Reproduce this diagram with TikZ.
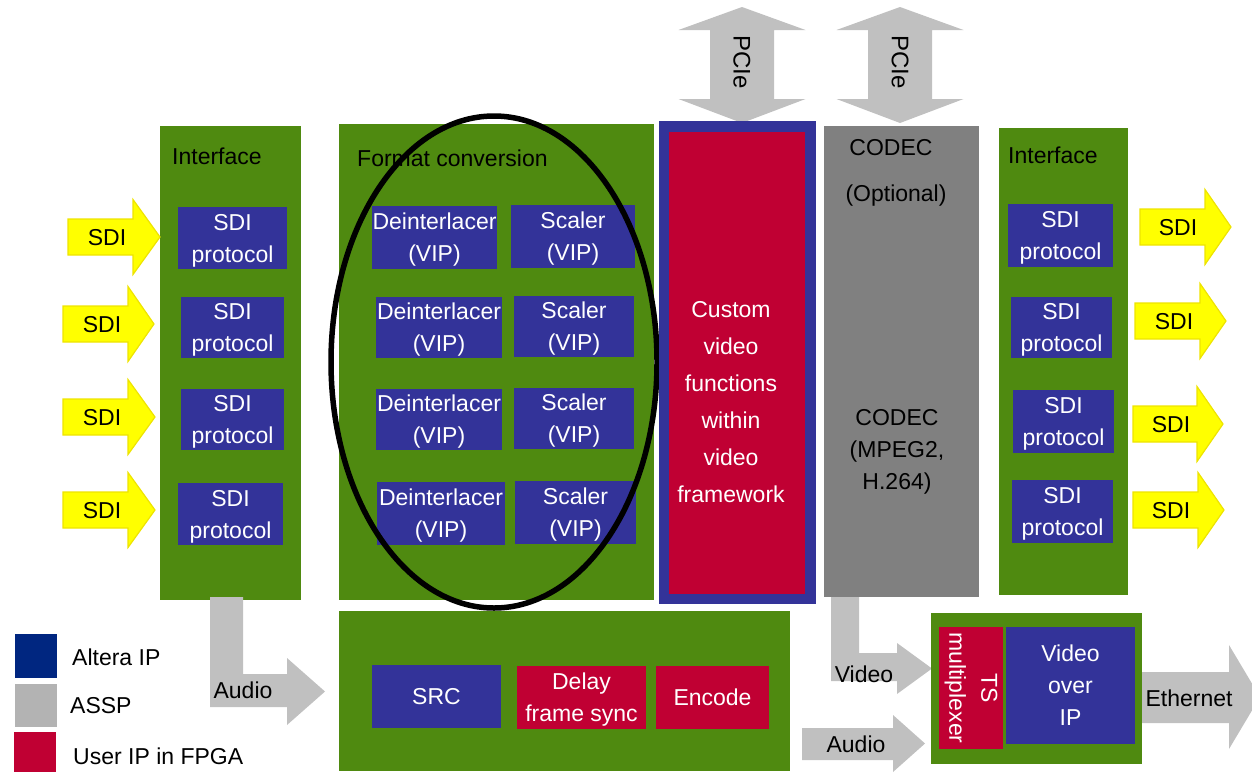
\documentclass[tikz,border=0pt]{standalone}
\usepackage{fontspec}
\setmainfont{Liberation Sans}
\definecolor{grn}{HTML}{4F8A10}
\definecolor{vblue}{HTML}{333399}
\definecolor{ured}{HTML}{C00033}
\definecolor{agray}{HTML}{C0C0C0}
\definecolor{cgray}{HTML}{808080}
\definecolor{lblue}{HTML}{002680}
\definecolor{lgray}{HTML}{B3B3B3}
\definecolor{yel}{HTML}{FFFF00}
\definecolor{yeld}{HTML}{EEE400}
\newcommand\fs{\fontsize{23}{32}\selectfont}
\newcommand\fsw{\fontsize{23}{37}\selectfont}
\tikzset{
  grp/.style={fill=grn, inner sep=0},
  ablk/.style={fill=vblue, inner sep=0, text=white, font=\fs, align=center, text depth=0pt},
  ublk/.style={fill=ured, inner sep=0, text=white, font=\fs, align=center, text depth=0pt},
  tsblk/.style={fill=ured, inner sep=0, text=white, font=\fs, align=center},
  lbl/.style={font=\fs, inner sep=0, align=center},
  yarr/.style={fill=yel, draw=yeld, line width=1.2pt},
  garr/.style={fill=agray},
}
\newcommand\sdiarr[6]{%
  \filldraw[yarr] (#2,#5-18) -- (#3,#5-18) -- (#3,#5-37.5) -- (#4,#5) -- (#3,#5+37.5) -- (#3,#5+18) -- (#2,#5+18) -- cycle;
  \node[lbl] (#1) at (#6,#5+1) {SDI};}
\newcommand\pciearr[2]{%
  \fill[garr] (#2,7) -- (#2+63.5,30) -- (#2+32,30) -- (#2+32,99) -- (#2+63.5,99) -- (#2,123) -- (#2-63.5,99) -- (#2-32,99) -- (#2-32,30) -- (#2-63.5,30) -- cycle;
  \node[lbl, rotate=-90, font=\fontsize{24}{30}\selectfont] (#1) at (#2,62) {PCIe};}
\begin{document}
\begin{tikzpicture}[x=1pt,y=-1pt]
\useasboundingbox (0,0) rectangle (1252,772);

% PCIe arrows
\pciearr{pcie1}{742}
\pciearr{pcie2}{900}

% Left interface
\node[grp, minimum width=141, minimum height=474] (ifl) at (230.5,363) {};
\node[lbl, anchor=west] (iflt) at (172,156) {Interface};
\node[ablk, minimum width=109, minimum height=62] (sl1) at (232.5,238) {SDI\\protocol};
\node[ablk, minimum width=103, minimum height=61] (sl2) at (232.5,327.5) {SDI\\protocol};
\node[ablk, minimum width=103, minimum height=61] (sl3) at (232.5,419.5) {SDI\\protocol};
\node[ablk, minimum width=105, minimum height=62] (sl4) at (230.5,514) {SDI\\protocol};

% Left SDI arrows
\sdiarr{al1}{68}{133}{160}{237}{107}
\sdiarr{al2}{63}{128}{154}{324}{102}
\sdiarr{al3}{63}{128}{155}{417}{102}
\sdiarr{al4}{63}{128}{155}{510}{102}

% Format conversion
\node[grp, minimum width=315, minimum height=476] (fc) at (496.5,362) {};
\node[lbl, anchor=west] (fct) at (357,158) {Format conversion};
\node[ablk, minimum width=125, minimum height=63] (d1) at (434.5,237.5) {Deinterlacer\\(VIP)};
\node[ablk, minimum width=124, minimum height=63] (s1) at (573,236.5) {Scaler\\(VIP)};
\node[ablk, minimum width=126, minimum height=61] (d2) at (439,327.5) {Deinterlacer\\(VIP)};
\node[ablk, minimum width=120, minimum height=61] (s2) at (574,326.5) {Scaler\\(VIP)};
\node[ablk, minimum width=126, minimum height=61] (d3) at (439,419.5) {Deinterlacer\\(VIP)};
\node[ablk, minimum width=120, minimum height=61] (s3) at (574,418.5) {Scaler\\(VIP)};
\node[ablk, minimum width=128, minimum height=63] (d4) at (441,513.5) {Deinterlacer\\(VIP)};
\node[ablk, minimum width=121, minimum height=63] (s4) at (575.5,512.5) {Scaler\\(VIP)};
\draw[line width=5.5pt] (494,362) ellipse [x radius=163, y radius=246];

% Custom video functions
\node[fill=vblue, inner sep=0, minimum width=157, minimum height=483] (cvo) at (737.5,362.5) {};
\node[fill=ured, inner sep=0, minimum width=136, minimum height=462] (cvi) at (737,363) {};
\node[lbl, text=white, font=\fsw] (cvt) at (731,402.5) {Custom\\video\\functions\\within\\video\\framework};

% CODEC
\node[fill=cgray, inner sep=0, minimum width=155, minimum height=471] (codec) at (901.5,361.5) {};
\node[lbl] (ct1) at (891,148) {CODEC};
\node[lbl] (ct2) at (896,196) {(Optional)};
\node[lbl] (ct3) at (897,452) {CODEC\\(MPEG2,\\H.264)};

% Right interface
\node[grp, minimum width=129, minimum height=467] (ifr) at (1063.5,361.5) {};
\node[lbl, anchor=west] (ifrt) at (1008,155) {Interface};
\node[ablk, minimum width=105, minimum height=63] (sr1) at (1060.5,235.5) {SDI\\protocol};
\node[ablk, minimum width=101, minimum height=61] (sr2) at (1061.5,327.5) {SDI\\protocol};
\node[ablk, minimum width=101, minimum height=63] (sr3) at (1063.5,421.5) {SDI\\protocol};
\node[ablk, minimum width=101, minimum height=63] (sr4) at (1062.5,511.5) {SDI\\protocol};

% Right SDI arrows
\sdiarr{ar1}{1140}{1205}{1231}{227}{1178}
\sdiarr{ar2}{1135}{1200}{1226}{321}{1174}
\sdiarr{ar3}{1133}{1197}{1223}{424}{1171}
\sdiarr{ar4}{1133}{1198}{1224}{510}{1171}

% Bottom audio processing
\node[grp, minimum width=451, minimum height=160] (aud) at (564.5,691) {};
\node[ablk, minimum width=129, minimum height=63] (src) at (436.5,696.5) {SRC};
\node[ublk, minimum width=129, minimum height=63] (dly) at (581.5,697.5) {Delay\\frame sync};
\node[ublk, minimum width=113, minimum height=63] (enc) at (712.5,697.5) {Encode};

% Left audio arrow
\fill[garr] (210,597) -- (243,597) -- (243,674) -- (287,674) -- (287,658) -- (325,691.5) -- (287,725) -- (287,707) -- (210,707) -- cycle;
\node[lbl] (audl) at (243,690) {Audio};

% Video arrow
\fill[garr] (831,597) -- (859,597) -- (859,653) -- (897,653) -- (897,643) -- (932,668.5) -- (897,694) -- (897,681) -- (831,681) -- cycle;
\node[lbl] (vidl) at (864,674) {Video};

% Right audio arrow
\fill[garr] (802,728) -- (893,728) -- (893,715) -- (925,743.5) -- (893,772) -- (893,760) -- (802,760) -- cycle;
\node[lbl] (audr) at (856,744) {Audio};

% TS / Video over IP
\node[grp, minimum width=211, minimum height=151] (ts) at (1036.5,688.5) {};
\node[tsblk, rotate=-90, minimum width=122, minimum height=64] (tsm) at (971,688) {TS\\multiplexer};
\node[ablk, minimum width=129, minimum height=117] (voip) at (1070.5,685.5) {Video\\over\\IP};

% Ethernet arrow
\fill[garr] (1142,672) -- (1229,672) -- (1229,645) -- (1260,697) -- (1229,749) -- (1229,723) -- (1142,723) -- cycle;
\node[lbl] (eth) at (1189,698) {Ethernet};

% Legend
\node[fill=lblue, inner sep=0, minimum width=42, minimum height=44] (lg1) at (36,656) {};
\node[fill=lgray, inner sep=0, minimum width=42, minimum height=43] (lg2) at (36,705.5) {};
\node[fill=ured, inner sep=0, minimum width=42, minimum height=40] (lg3) at (35,752) {};
\node[lbl, anchor=west] (lt1) at (72,657) {Altera IP};
\node[lbl, anchor=west] (lt2) at (70,706) {ASSP};
\node[lbl, anchor=west] (lt3) at (73,756) {User IP in FPGA};
\end{tikzpicture}
\end{document}
